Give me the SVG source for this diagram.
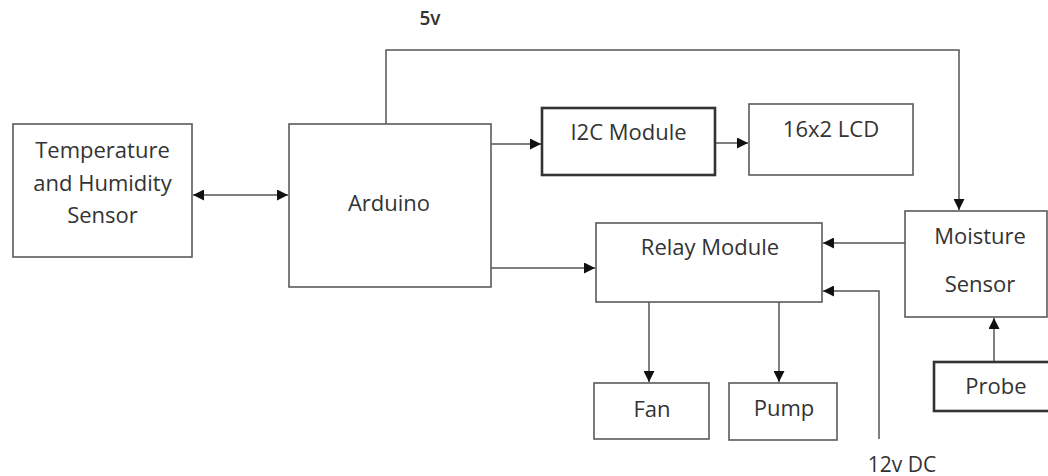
<svg xmlns="http://www.w3.org/2000/svg" width="1048" height="476" viewBox="0 0 1048 476">
<defs>
<style>
.box{fill:#fff;stroke:#5a5a5a;stroke-width:1.6}
.thick{fill:#fff;stroke:#333;stroke-width:2.6}
.lbl{font-family:"Open Sans","Liberation Sans",sans-serif;font-size:22px;fill:#333;text-anchor:middle}
.ln{fill:none;stroke:#555;stroke-width:1.5}
</style>
<marker id="ah" viewBox="0 0 11 11" refX="11" refY="5.5" markerWidth="11" markerHeight="11" markerUnits="userSpaceOnUse" orient="auto-start-reverse">
<path d="M0,0 L11,5.5 L0,11 Z" fill="#111"/>
</marker>
</defs>
<rect width="1048" height="476" fill="#fff"/>
<g id="connectors">
<line class="ln" x1="193" y1="195" x2="288" y2="195" marker-start="url(#ah)" marker-end="url(#ah)"/>
<line class="ln" x1="491" y1="144" x2="541" y2="144" marker-end="url(#ah)"/>
<line class="ln" x1="716" y1="143" x2="748" y2="143" marker-end="url(#ah)"/>
<line class="ln" x1="491" y1="268" x2="595" y2="268" marker-end="url(#ah)"/>
<polyline class="ln" points="386,124 386,50 959,50 959,210" marker-end="url(#ah)"/>
<line class="ln" x1="905" y1="243" x2="823" y2="243" marker-end="url(#ah)"/>
<polyline class="ln" points="879,439 879,291 823,291" marker-end="url(#ah)"/>
<line class="ln" x1="649" y1="302" x2="649" y2="382" marker-end="url(#ah)"/>
<line class="ln" x1="779" y1="302" x2="779" y2="382" marker-end="url(#ah)"/>
<line class="ln" x1="994" y1="361" x2="994" y2="318" marker-end="url(#ah)"/>
<text class="lbl" x="430" y="25" style="font-size:19px;font-weight:600">5v</text>
<text class="lbl" x="902" y="472" style="font-size:21px">12v DC</text>
</g>
<g id="temp">
<rect class="box" x="13" y="124" width="179" height="133"/>
<text class="lbl" x="102.5" y="158">Temperature</text>
<text class="lbl" x="102.5" y="191">and Humidity</text>
<text class="lbl" x="102.5" y="223">Sensor</text>
</g>
<g id="arduino">
<rect class="box" x="289" y="124" width="202" height="163"/>
<text class="lbl" x="389" y="211">Arduino</text>
</g>
<g id="i2c">
<rect class="thick" x="542" y="108" width="173" height="67"/>
<text class="lbl" x="628.5" y="140">I2C Module</text>
</g>
<g id="lcd">
<rect class="box" x="749" y="104" width="164" height="71"/>
<text class="lbl" x="831" y="137">16x2 LCD</text>
</g>
<g id="relay">
<rect class="box" x="596" y="223" width="226" height="79"/>
<text class="lbl" x="710" y="255">Relay Module</text>
</g>
<g id="moisture">
<rect class="box" x="905" y="211" width="142" height="106"/>
<text class="lbl" x="980" y="244">Moisture</text>
<text class="lbl" x="980" y="292">Sensor</text>
</g>
<g id="probe">
<rect class="thick" x="934" y="362" width="120" height="49"/>
<text class="lbl" x="996" y="394">Probe</text>
</g>
<g id="fan">
<rect class="box" x="594" y="383" width="115" height="56"/>
<text class="lbl" x="652" y="417">Fan</text>
</g>
<g id="pump">
<rect class="box" x="729" y="383" width="108" height="57"/>
<text class="lbl" x="784" y="416">Pump</text>
</g>
</svg>
